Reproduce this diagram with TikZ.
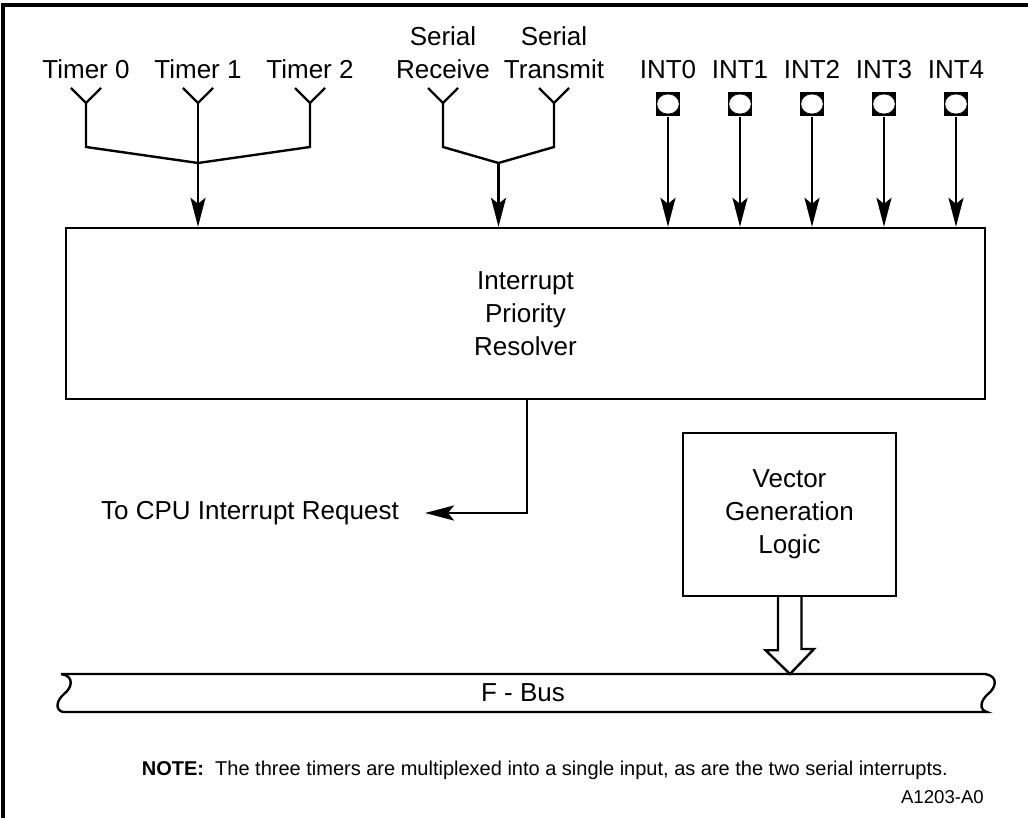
\documentclass[tikz,border=0pt]{standalone}
\usepackage{fontspec}
\setmainfont{Liberation Sans}
\usetikzlibrary{positioning,arrows.meta,calc}

\begin{document}
\begin{tikzpicture}[x=0.5pt,y=-0.5pt,line width=1.2pt,
        font=\fontsize{13}{16.5}\selectfont,
        lbl/.style={inner sep=0pt,anchor=south,align=center},
        blk/.style={draw,align=center},
        pin/.style={fill=black,minimum size=12pt,inner sep=0pt,
            path picture={\fill[white] (path picture bounding box.center)
                ellipse (5.4pt and 4.8pt);}},
        arw/.style={-{Stealth[length=14.5pt,width=7.5pt,inset=3pt]}}]
    \useasboundingbox (0,0) rectangle (1028,818);
    \draw[line width=1.6pt] (3,818) -- (3,5) -- (1028,5);
    % Blocos
    \node[blk,minimum width=459.5pt,minimum height=85.5pt] (ipr) at (525.5,313.5)
        {Interrupt\\Priority\\Resolver};
    \node[blk,minimum width=106.5pt,minimum height=81.5pt] (vgl) at (789.5,514.5)
        {Vector\\Generation\\Logic};
    % Timers
    \foreach \n/\x in {0/86,1/198,2/310}{
        \node[lbl] (tl\n) at (\x,80) {Timer \n};
        \coordinate (ty\n) at (\x,103);
        \draw (ty\n) ++(-15,-15) -- (ty\n) -- ++(15,-15);
    }
    \coordinate (tj) at (198,163);
    \draw (ty0) -- ++(0,44) -- (tj) -- ($(ty2)+(0,44)$) -- (ty2);
    \draw[arw] (ty1) -- (ty1 |- ipr.north);
    % Serial
    \node[lbl] (srx) at (443,80) {Serial\\Receive};
    \node[lbl] (stx) at (554,80) {Serial\\Transmit};
    \foreach \n/\x in {0/443,1/554}{
        \coordinate (sy\n) at (\x,103);
        \draw (sy\n) ++(-15,-15) -- (sy\n) -- ++(15,-15);
    }
    \coordinate (sj) at (498.5,163);
    \draw (sy0) -- ++(0,44) -- (sj) -- ($(sy1)+(0,44)$) -- (sy1);
    \draw[arw] (sj) -- (sj |- ipr.north);
    % INT0..INT4
    \foreach \n/\x in {0/668,1/740,2/812,3/884,4/956}{
        \node[lbl] (il\n) at (\x,80) {INT\n};
        \node[pin] (ip\n) at (\x,104) {};
        \draw[arw] (ip\n) -- (ip\n |- ipr.north);
    }
    % Saida para a CPU
    \node[anchor=east,inner sep=0pt] (cpu) at (400,513) {To CPU Interrupt Request};
    \draw[arw] ([xshift=0.75pt]ipr.south) |- ([xshift=12.5pt]cpu.east);
    % F-Bus
    \draw (61,674) -- (985,674) .. controls (999,676) and (996,688) .. (988,694)
        .. controls (980,701) and (979,710) .. (987,712) -- (63,712)
        .. controls (55,710) and (56,701) .. (64,694)
        .. controls (72,688) and (75,676) .. (61,674);
    \node (fbus) at (523,693) {F - Bus};
    \coordinate (bustop) at (790,674);
    \draw ($(vgl.south)+(-11.5,0)$) -- ++(0,53) -- ++(-12.5,0) -- (bustop)
        -- ++(24,-25) -- ++(-12.5,0) -- ++(0,-53);
    % Nota
    \node[anchor=base east,inner sep=0pt,font=\fontsize{10}{12}\selectfont] (note)
        at (949,775) {\textbf{NOTE:}\ \ The three timers are multiplexed into a single
        input, as are the two serial interrupts.};
    \node[anchor=base east,inner sep=0pt,font=\fontsize{9.3}{11}\selectfont] (fig)
        at (985,803) {A1203-A0};
\end{tikzpicture}
\end{document}
